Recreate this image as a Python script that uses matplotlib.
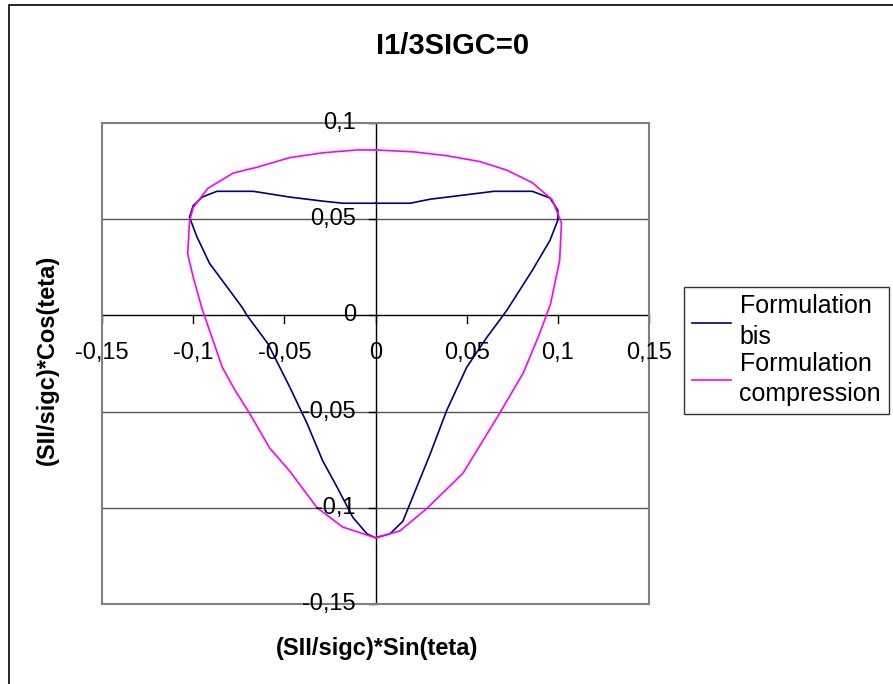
import matplotlib.pyplot as plt
from matplotlib.patches import Rectangle

plt.rcParams['font.family'] = ['Liberation Sans', 'DejaVu Sans']

# Courbe "Formulation bis"
bis_x = [0.000, -0.018, -0.029, -0.047, -0.067, -0.087, -0.095, -0.100, -0.102,
         -0.098, -0.091, -0.080, -0.073, -0.0705, -0.059, -0.047, -0.0376, -0.029,
         -0.021, -0.0124, -0.0047, 0.000, 0.008, 0.015, 0.021, 0.030, 0.039, 0.050,
         0.061, 0.070, 0.072, 0.086, 0.0957, 0.100, 0.100, 0.0957, 0.086, 0.065,
         0.048, 0.030, 0.019, 0.000]
bis_y = [0.0583, 0.0583, 0.0594, 0.0615, 0.0645, 0.0645, 0.0615, 0.057, 0.051,
         0.041, 0.027, 0.013, 0.004, 0.000, -0.0147, -0.0373, -0.056, -0.0755,
         -0.0894, -0.105, -0.1135, -0.1156, -0.1135, -0.107, -0.093, -0.072, -0.0495, -0.027,
         -0.0115, 0.000, 0.0026, 0.0234, 0.039, 0.0495, 0.0547, 0.061, 0.0645, 0.0645,
         0.0625, 0.0604, 0.0583, 0.0583]

# Courbe "Formulation compression"
comp_x = [0.000, -0.010, -0.029, -0.047, -0.065, -0.078, -0.085, -0.092, -0.100,
          -0.102, -0.103, -0.100, -0.095, -0.0935, -0.084, -0.077, -0.069, -0.058,
          -0.047, -0.032, -0.018, 0.000, 0.0134, 0.028, 0.048, 0.068, 0.081, 0.090,
          0.096, 0.101, 0.102, 0.097, 0.086, 0.072, 0.057, 0.039, 0.021, 0.000]
comp_y = [0.086, 0.086, 0.0845, 0.082, 0.077, 0.074, 0.070, 0.066, 0.056,
          0.049, 0.032, 0.020, 0.003, -0.001, -0.027, -0.039, -0.051, -0.069,
          -0.081, -0.100, -0.110, -0.1156, -0.112, -0.1005, -0.082, -0.051, -0.030, -0.0095,
          0.006, 0.0286, 0.048, 0.060, 0.069, 0.0755, 0.080, 0.083, 0.085, 0.086]

x_ticks = [-0.15, -0.1, -0.05, 0, 0.05, 0.1, 0.15]
x_labels = ['-0,15', '-0,1', '-0,05', '0', '0,05', '0,1', '0,15']
y_ticks = [-0.15, -0.1, -0.05, 0, 0.05, 0.1]
y_labels = ['-0,15', '-0,1', '-0,05', '0', '0,05', '0,1']

fig = plt.figure(figsize=(8.93, 6.84), dpi=100)
fig.patches.append(Rectangle((9 / 893, -0.1), 1.2, 1 - 5 / 684 + 0.1,
                             transform=fig.transFigure, fill=False,
                             edgecolor='black', linewidth=1.2))

ax = fig.add_axes([102 / 893, 80 / 684, 547 / 893, 481 / 684])
ax.set_xlim(-0.15, 0.15)
ax.set_ylim(-0.15, 0.1)

for y in [-0.1, -0.05, 0.05]:
    ax.axhline(y, color='#555555', linewidth=1, zorder=1)
ax.axhline(0, color='black', linewidth=1, zorder=2)
ax.axvline(0, color='black', linewidth=1, zorder=2)
for s in ax.spines.values():
    s.set_color('#808080')
    s.set_linewidth(1.5)

ax.plot(bis_x, bis_y, color='#000080', linewidth=1.2, label='Formulation\nbis', zorder=3)
ax.plot(comp_x, comp_y, color='#FF00FF', linewidth=1.2, label='Formulation\ncompression', zorder=3)

ax.set_xticks([])
ax.set_yticks([])
# graduations sur les axes centraux (style Excel)
for xt, lab in zip(x_ticks, x_labels):
    ax.plot([xt, xt], [0, -0.0042], color='black', linewidth=1, clip_on=False, zorder=2)
    ax.text(xt, -0.0193, lab, ha='center', va='center', fontsize=17)
for yt, lab in zip(y_ticks, y_labels):
    ax.plot([-0.0038, 0], [yt, yt], color='black', linewidth=1, clip_on=False, zorder=2)
    ax.text(-0.0108, yt, lab, ha='right', va='center', fontsize=17)

fig.text(453 / 893, 1 - 46 / 684, 'I1/3SIGC=0', ha='center', va='center',
         fontsize=21, fontweight='bold')
fig.text(377 / 893, 1 - 648 / 684, '(SII/sigc)*Sin(teta)', ha='center', va='center',
         fontsize=17, fontweight='bold')
fig.text(47 / 893, 1 - 360 / 684, '(SII/sigc)*Cos(teta)', ha='center', va='center',
         fontsize=17, fontweight='bold', rotation=90)

leg = fig.legend(loc='upper left', bbox_to_anchor=(684 / 893, 1 - 287 / 684),
                 fontsize=18, frameon=True, fancybox=False, handlelength=1.56,
                 handletextpad=0.36, borderpad=0.3, labelspacing=0.1,
                 borderaxespad=0)
for t in leg.get_texts():
    t.set_linespacing(1.35)
leg.get_frame().set_edgecolor('black')
leg.get_frame().set_linewidth(1)

fig.savefig('out.png', dpi=100)
